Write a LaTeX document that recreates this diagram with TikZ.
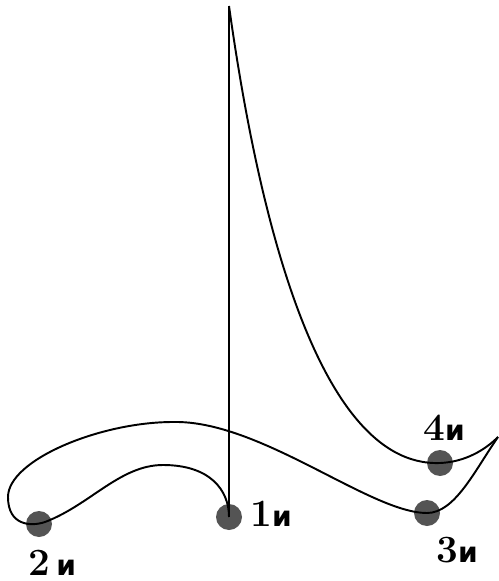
\documentclass[tikz,border=0pt]{standalone}
\usepackage{fontspec}
\newfontfamily\cyrfont{DejaVu Sans}

\begin{document}
\begin{tikzpicture}[x=0.02cm,y=-0.02cm]

\tikzset{
  bob/.style={
    circle,
    fill=black!67,
    minimum size=0.52cm,
    inner sep=0pt,
  },
  bob label/.style={
    inner sep=0pt,
    font=\fontsize{22}{22}\selectfont\bfseries,
  },
  swing/.style={
    line width=1.1pt,
  }
}

  \useasboundingbox (0,0) rectangle (498,581);

  % Positions
  \node[bob] (n1) at (229,517) {};
  \node[bob] (n2) at (39,524)  {};
  \node[bob] (n3) at (427,513) {};
  \node[bob] (n4) at (440,463) {};

  \coordinate (top) at (229,6);
  \coordinate (corner) at (498,437);

  % Labels
  \node[bob label] (l1) at (271,514) {1{\cyrfont\fontsize{16}{16}\selectfont и}};
  \node[bob label] (l2) at (52,563)  {2\,{\cyrfont\fontsize{16}{16}\selectfont и}};
  \node[bob label] (l3) at (457,550) {3{\cyrfont\fontsize{16}{16}\selectfont и}};
  \node[bob label] (l4) at (444,428) {4{\cyrfont\fontsize{16}{16}\selectfont и}};

  % Path
  \draw[swing] (top) .. controls (252,170) and (308,468) .. (n4.center);
  \draw[swing] (n4.center) .. controls (465,462) and (485,450) .. (corner);
  \draw[swing] (corner) .. controls (475,470) and (455,513) .. (n3.center);
  \draw[swing] (n3.center) .. controls (370,513) and (260,420) .. (173,422)
    .. controls (100,422) and (8,460) .. (8,497)
    .. controls (8,525) and (30,527) .. (45,522)
    .. controls (90,505) and (120,465) .. (163,465)
    .. controls (210,465) and (229,490) .. (n1.center);
  \draw[swing] (n1.center) -- (top);
\end{tikzpicture}
\end{document}
